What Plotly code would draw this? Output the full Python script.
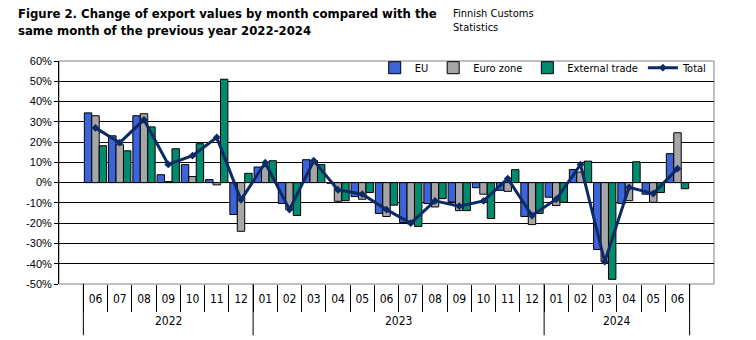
import plotly.graph_objects as go

years = ["2022"] * 7 + ["2023"] * 12 + ["2024"] * 6
months = ["06", "07", "08", "09", "10", "11", "12",
          "01", "02", "03", "04", "05", "06", "07", "08", "09", "10", "11", "12",
          "01", "02", "03", "04", "05", "06"]

eu = [34.4, 23.1, 33.0, 3.9, 8.9, 1.5, -15.7,
      7.7, -10.3, 11.3, -0.3, -6.9, -15.2, -19.7, -10.3, -9.5, -2.5, -3.8, -16.7,
      -7.2, 6.5, -33.0, -10.3, -5.7, 14.3]
euro_zone = [33.0, 18.7, 34.0, 0.5, 3.0, -1.1, -24.0,
             7.9, -13.3, 10.8, -9.2, -8.2, -16.7, -20.3, -12.0, -13.8, -5.7, -4.3, -20.7,
             -11.3, 5.2, -39.0, -8.9, -9.7, 24.6]
external = [18.2, 15.7, 27.5, 16.7, 19.2, 51.0, 4.6,
            10.8, -16.2, 8.9, -8.9, -4.9, -11.1, -21.6, -7.9, -13.8, -17.7, 6.4, -15.2,
            -9.7, 10.6, -47.7, 10.3, -4.9, -3.0]
total = [27.0, 19.7, 31.0, 9.0, 13.3, 22.3, -8.5,
         9.8, -13.3, 10.8, -3.6, -5.7, -13.3, -20.0, -9.0, -11.6, -9.0, 2.0, -16.2,
         -8.2, 8.9, -39.0, -2.3, -5.4, 6.9]

y_ticks = list(range(-50, 61, 10))
y_labels = [f"{v}%" for v in y_ticks]

FONT = "DejaVu Sans Condensed, Liberation Sans, sans-serif"
TFONT = "DejaVu Sans Condensed, sans-serif"

cats = [f"{y}-{m}" for y, m in zip(years, months)]
outline = dict(color="black", width=1)

fig = go.Figure()
fig.add_trace(go.Bar(x=cats, y=eu, name="EU", marker=dict(color="#3d63d9", line=outline)))
fig.add_trace(go.Bar(x=cats, y=euro_zone, name="Euro zone", marker=dict(color="#a6a6a6", line=outline)))
fig.add_trace(go.Bar(x=cats, y=external, name="External trade", marker=dict(color="#008a6e", line=outline)))
fig.add_trace(go.Scatter(x=cats, y=total, name="Total", mode="lines+markers",
                         line=dict(color="#0b2a66", width=3),
                         marker=dict(symbol="diamond", size=6, color="#0b2a66")))

# year group boundaries and labels (derived from the year list)
bounds = [-0.5]
year_names = []
year_centers = []
start = 0
for i in range(1, len(years) + 1):
    if i == len(years) or years[i] != years[i - 1]:
        bounds.append(i - 0.5)
        year_names.append(years[i - 1])
        year_centers.append((start + i - 1) / 2)
        start = i

shapes = [dict(type="rect", xref="paper", yref="paper", x0=0, x1=1, y0=0, y1=1,
               line=dict(color="#808080", width=1), layer="below")]
for b in bounds:
    shapes.append(dict(type="line", xref="x", yref="paper", x0=b, x1=b, y0=0, y1=-0.23,
                       line=dict(color="black", width=1)))

annotations = [
    dict(text="<b>Figure 2. Change of export values by month compared with the<br>same month of the previous year 2022-2024</b>",
         xref="paper", yref="paper", x=-0.065, y=1.0, xanchor="left", yanchor="bottom",
         yshift=21, align="left", showarrow=False,
         font=dict(size=13, family=TFONT, color="black")),
    dict(text="Finnish Customs<br>Statistics", xref="paper", yref="paper",
         x=0.598, y=1.0, xanchor="left", yanchor="bottom", yshift=25, align="left",
         showarrow=False, font=dict(size=11, family=TFONT, color="black")),
]
for name, c in zip(year_names, year_centers):
    annotations.append(dict(text=name, xref="x", yref="paper", x=c, y=-0.165,
                            xanchor="center", yanchor="middle", showarrow=False,
                            font=dict(size=12, family=FONT, color="black")))

fig.update_layout(
    width=756, height=340,
    margin=dict(l=59, r=42, t=61, b=56),
    paper_bgcolor="white", plot_bgcolor="white",
    font=dict(family=FONT, size=11, color="black"),
    barmode="group", bargap=0.08, bargroupgap=0,
    showlegend=True,
    legend=dict(orientation="h", x=0.998, xanchor="right", y=1.035, yanchor="top",
                bgcolor="rgba(255,255,255,0)", font=dict(size=11, family=TFONT),
                itemwidth=30),
    xaxis=dict(type="category", showgrid=False, showline=False,
               tickvals=cats, ticktext=months, tickson="boundaries",
               ticks="outside", ticklen=27, tickcolor="black",
               ticklabelstandoff=6,
               tickfont=dict(size=12, family=FONT), tickangle=0),
    yaxis=dict(range=[-50, 60], tickvals=y_ticks, ticktext=y_labels,
               showgrid=True, gridcolor="black", gridwidth=1,
               zeroline=True, zerolinecolor="black", zerolinewidth=1,
               showline=True, linecolor="black", linewidth=1,
               ticks="outside", ticklen=4, tickcolor="black",
               tickfont=dict(size=11, family="Liberation Sans, Arial, sans-serif")),
    annotations=annotations,
    shapes=shapes,
)

fig.write_html("out.html")
